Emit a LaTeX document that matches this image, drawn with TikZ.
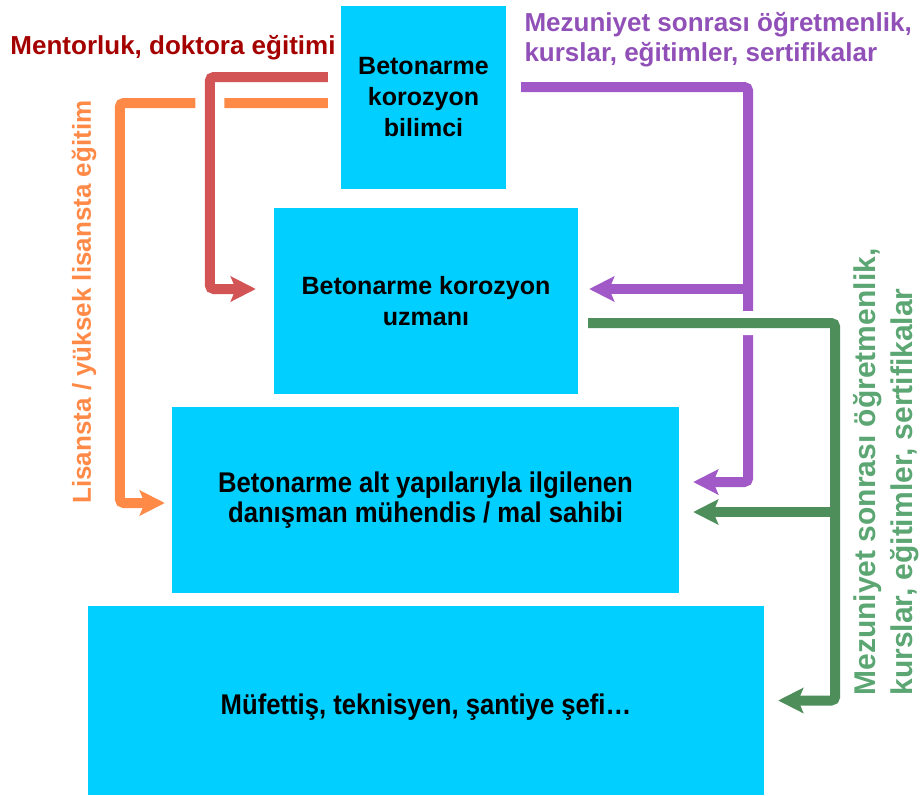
\documentclass[tikz,border=0pt]{standalone}
\usepackage{fontspec}
\setmainfont{Liberation Sans}
\newfontfamily\narrowsans[FakeStretch=0.9]{Liberation Sans}
\usetikzlibrary{arrows.meta}

\definecolor{boxcyan}{HTML}{00CFFF}
\definecolor{mentortext}{HTML}{A50000}
\definecolor{mentorline}{HTML}{D35454}
\definecolor{lisansline}{HTML}{FF8A47}
\definecolor{kursline}{HTML}{A259C8}
\definecolor{kurstext}{HTML}{9150B8}
\definecolor{sertline}{HTML}{4E8E5A}
\definecolor{serttext}{HTML}{5BA672}

\begin{document}
\begin{tikzpicture}[x=1pt,y=-1pt,
  level/.style={fill=boxcyan,inner sep=0pt,align=center,font=\bfseries\fontsize{25}{31}\selectfont},
  widelevel/.style={level,font=\narrowsans\bfseries\fontsize{28.5}{30}\selectfont},
  flow/.style={line width=10pt,rounded corners=4pt,-{Stealth[length=25pt,width=25pt,inset=5pt]}},
  label/.style={font=\bfseries\fontsize{26}{30}\selectfont}]

\useasboundingbox (0,0) rectangle (920,795);

\node [level,minimum width=165pt,minimum height=183pt] (bilimci) at (423.5,97.5) {Betonarme\\korozyon\\bilimci};
\node [level,minimum width=304pt,minimum height=186pt] (uzman) at (426,301) {Betonarme korozyon\\uzmanı};
\node [widelevel,minimum width=507pt,minimum height=186pt] (danisman) at (425.5,500) {Betonarme alt yapılarıyla ilgilenen\\danışman mühendis / mal sahibi};
\node [widelevel,minimum width=676pt,minimum height=189pt] (mufettis) at (426,700.5) {\raisebox{-7pt}[\height][\depth]{Müfettiş, teknisyen, şantiye şefi…}};

\draw [flow,color=lisansline] ([shift={(-13,5.5)}]bilimci.west) -| ([shift={(-52,3)}]danisman.west) -- ([shift={(-7,3)}]danisman.west);
\draw [flow,color=mentorline,preaction={draw=white,line width=29pt,-}] ([shift={(-13,-20.5)}]bilimci.west) -| ([shift={(-64,-12)}]uzman.west) -- ([shift={(-18,-12)}]uzman.west);

\draw [flow,color=kursline] ([shift={(15,-10.5)}]bilimci.east) -| ([shift={(69,-18)}]danisman.east) -- ([shift={(14,-18)}]danisman.east);
\draw [flow,color=kursline] ([shift={(170,-12)}]uzman.east) -- ([shift={(11,-12)}]uzman.east);

\draw [flow,color=sertline,preaction={draw=white,line width=24pt,-}] ([shift={(10,22)}]uzman.east) -| ([xshift=71pt]mufettis.east) -- ([xshift=14pt]mufettis.east);
\draw [flow,color=sertline] ([shift={(156,12)}]danisman.east) -- ([shift={(14,12)}]danisman.east);

\node [label,text=mentortext] (mentorlbl) at (173,48) {Mentorluk, doktora eğitimi};
\node [label,text=lisansline,rotate=90] (lisanslbl) at (84,302) {Lisansta / yüksek lisansta eğitim};
\node [label,text=kurstext,align=left,anchor=west] (kurslbl) at (521,40) {Mezuniyet sonrası öğretmenlik,\\kurslar, eğitimler, sertifikalar};
\node [label,text=serttext,align=left,rotate=90,font=\bfseries\fontsize{30}{37}\selectfont] (sertlbl) at (886,472) {Mezuniyet sonrası öğretmenlik,\\kurslar, eğitimler, sertifikalar};
\end{tikzpicture}
\end{document}
